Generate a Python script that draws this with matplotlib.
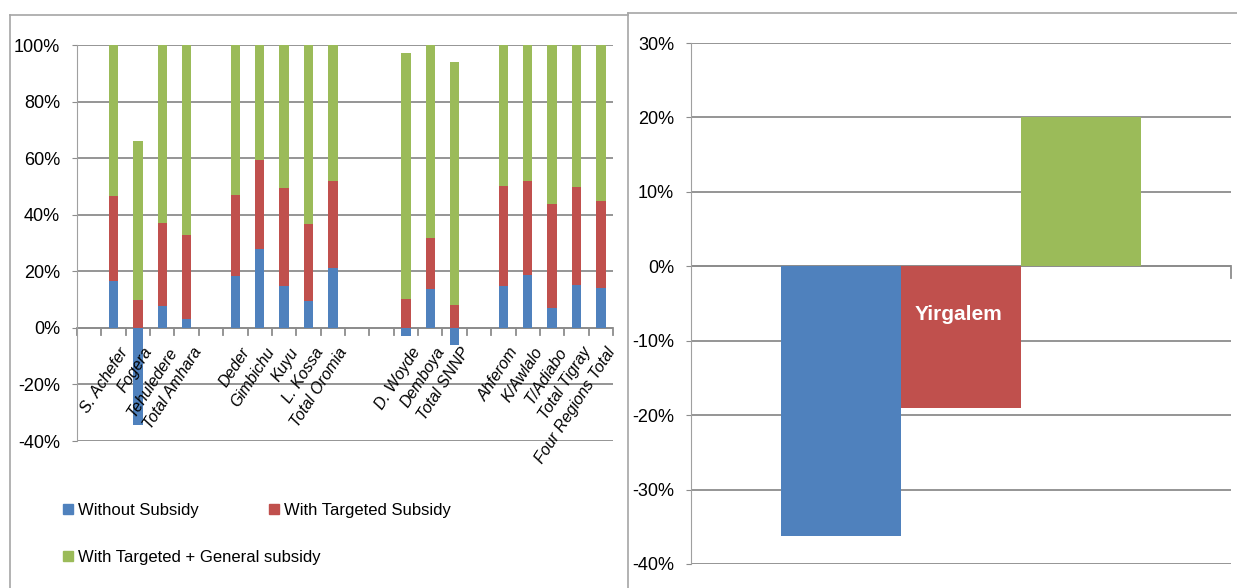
import numpy as np
import matplotlib
matplotlib.use("Agg")
from matplotlib import pyplot as plt
from matplotlib.lines import Line2D
from matplotlib.patches import Patch
from matplotlib.ticker import FuncFormatter, MultipleLocator
from matplotlib.transforms import offset_copy

plt.rcParams['font.family'] = ['Liberation Sans', 'DejaVu Sans']

nan = np.nan
sites = ["", "S. Achefer", "Fogera", "Tehuledere", "Total Amhara", "",
         "Deder", "Gimbichu", "Kuyu", "L. Kossa", "Total Oromia", "", "",
         "D. Woyde", "Demboya", "Total SNNP", "",
         "Ahferom", "K/Awlalo", "T/Adiabo", "Total Tigray", "Four Regions Total"]
without_subsidy = [nan, 16.6, -34.3, 7.6, 3.3, nan, 18.2, 27.8, 14.7, 9.5, 21.3, nan, nan,
                   -2.8, 13.6, -5.9, nan, 14.7, 18.6, 6.9, 15.0, 14.0]
targeted_subsidy = [nan, 29.9, 10.0, 29.4, 29.7, nan, 28.7, 31.4, 34.6, 27.2, 30.5, nan, nan,
                    10.2, 18.2, 8.2, nan, 35.3, 33.2, 37.0, 34.7, 30.9]
general_subsidy = [nan, 53.5, 56.0, 63.0, 67.0, nan, 53.1, 40.8, 50.7, 63.3, 48.2, nan, nan,
                   87.1, 68.2, 85.8, nan, 50.0, 48.2, 56.1, 50.3, 55.1]

series_names = ["Without Subsidy", "With Targeted Subsidy", "With Targeted + General subsidy"]
yirgalem_values = [-36.3, -19.1, 20.0]

blue = '#4F81BD'
red = '#C0504D'
green = '#9BBB59'
gray = '#8C8C8C'

fig = plt.figure(figsize=(12.37, 5.88), dpi=100)

# ---- left chart: stacked bars by site
ax = fig.add_axes([77 / 1237, 1 - 441 / 588, 536 / 1237, 396 / 588])
x = np.arange(len(sites))
b = np.array(without_subsidy)
t = np.array(targeted_subsidy)
g = np.array(general_subsidy)
pos_base = np.where(b > 0, b, 0)
w = 0.39
ax.bar(x, b, width=w, color=blue, zorder=3)
ax.bar(x, t, width=w, bottom=pos_base, color=red, zorder=3)
ax.bar(x, g, width=w, bottom=pos_base + t, color=green, zorder=3)

ax.set_xlim(-0.5, len(sites) - 0.5)
ax.set_ylim(-40, 100)
ax.yaxis.set_major_locator(MultipleLocator(20))
ax.yaxis.set_major_formatter(FuncFormatter(lambda v, p: f"{v:.0f}%"))
ax.grid(axis='y', color=gray, linewidth=1.3, zorder=0)
ax.axhline(0, color=gray, linewidth=1.3, zorder=2)
for s in ['top', 'right', 'bottom']:
    ax.spines[s].set_visible(False)
ax.spines['left'].set_color('#A0A0A0')
ax.tick_params(axis='y', length=3.6, color=gray, labelsize=13, pad=8.6)

# category names hang under the zero line, tick marks at category boundaries
lab_trans = offset_copy(ax.get_xaxis_transform(), fig=fig, x=5, y=-17, units='dots')
for xi, name in zip(x, sites):
    ax.text(xi, 40 / 140, name, transform=lab_trans, rotation=57, ha='right', va='top',
            rotation_mode='anchor', fontsize=11.5, style='italic')
ax.set_xticks([])
for xb in np.arange(len(sites) + 1) - 0.5:
    ax.plot([xb, xb], [0, -2.6], color=gray, linewidth=1.3, clip_on=False, zorder=2)

# legend entries placed like the original
handles = [Patch(color=c) for c in (blue, red, green)]
legend_spots = [(63, 503), (269, 503), (63, 550)]
for h, name, (px, py) in zip(handles, series_names, legend_spots):
    fig.legend([h], [name], loc='upper left', bbox_to_anchor=(px / 1237, 1 - py / 588),
               frameon=False, fontsize=12, handlelength=0.6, handleheight=0.6,
               handletextpad=0.3, borderaxespad=0, borderpad=0)

# ---- right chart: Yirgalem
ax2 = fig.add_axes([691 / 1237, 1 - 564 / 588, 540 / 1237, 521 / 588])
bw = 2 / 9
offsets = [-bw, 0, bw]
for off, val, col in zip(offsets, yirgalem_values, (blue, red, green)):
    ax2.bar(off, val, width=bw, color=col, zorder=3)
ax2.set_xlim(-0.5, 0.5)
ax2.set_ylim(-40, 30)
ax2.yaxis.set_major_locator(MultipleLocator(10))
ax2.yaxis.set_major_formatter(FuncFormatter(lambda v, p: f"{v:.0f}%"))
ax2.grid(axis='y', color=gray, linewidth=1.3, zorder=0)
ax2.axhline(0, color=gray, linewidth=1.3, zorder=2)
ax2.plot([0.5, 0.5], [0, -1.6], color=gray, linewidth=1.3, clip_on=False)
for s in ['top', 'right', 'bottom']:
    ax2.spines[s].set_visible(False)
ax2.spines['left'].set_color('#A0A0A0')
ax2.set_xticks([])
ax2.tick_params(axis='y', length=3.6, color=gray, labelsize=13, pad=8.6)
ax2.text(-0.005, -6.5, "Yirgalem", color='white', fontsize=15, fontweight='bold',
         ha='center', va='center', zorder=4)

# chart frames
frame = '#A6A6A6'
for xs, ys in [((10, 10), (15, 588)), ((10, 628), (15, 15)),
               ((628, 628), (13, 588)), ((628, 1237), (13, 13))]:
    fig.add_artist(Line2D([v / 1237 for v in xs], [1 - v / 588 for v in ys],
                          color=frame, linewidth=1.2))

fig.savefig("out.png", dpi=100)
